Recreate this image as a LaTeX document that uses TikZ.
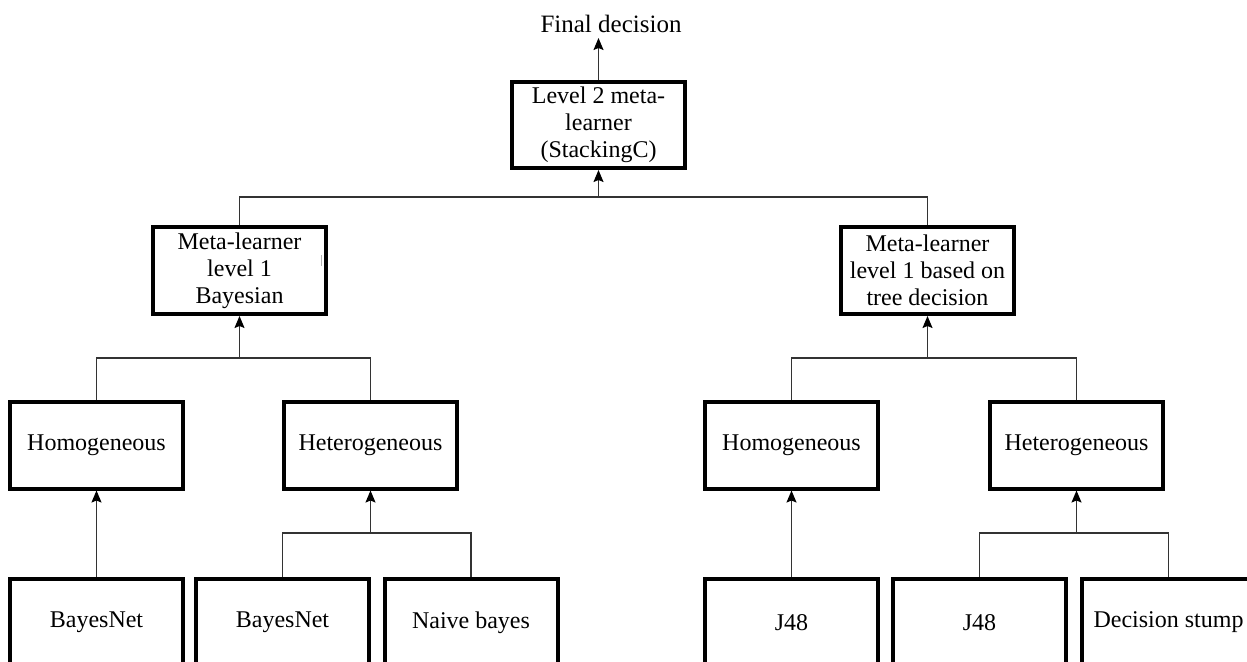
\documentclass[tikz,border=0pt]{standalone}
\usepackage{fontspec}
\setmainfont{Liberation Serif}
\usetikzlibrary{arrows.meta}
\begin{document}
\begin{tikzpicture}[x=1pt,y=-1pt,
  box/.style={draw=black, line width=4pt, minimum width=173pt, minimum height=87pt,
    inner sep=0pt, align=center, font=\fontsize{24}{27}\selectfont},
  conn/.style={draw=black!80, line width=1.3pt},
  arr/.style={conn, -{Stealth[length=12pt,width=10pt,inset=2pt,black]}}]
\useasboundingbox (0,0) rectangle (1247,661);
\clip (0,0) rectangle (1247,661);

% title
\node[inner sep=0pt, outer sep=5pt, text depth=0pt, anchor=base,
      font=\fontsize{25}{28}\selectfont] (fd) at (611,33) {Final decision};

% boxes
\node[box, minimum height=86pt] (top) at (598.5,125) {Level 2 meta-\\learner\\(StackingC)};
\node[box] (metaL) at (239.5,270.5) {Meta-learner\\level 1\\Bayesian};
\node[box] (metaR) at (927.5,270.5) {Meta-learner\\level 1 based on\\tree decision};
\node[box] (homL) at (96.5,445) {Homogeneous};
\node[box] (hetL) at (370.5,445) {Heterogeneous};
\node[box] (homR) at (791.5,445) {Homogeneous};
\node[box] (hetR) at (1076.5,445) {Heterogeneous};
\node[box] (b1) at (96.5,622.5) {BayesNet};
\node[box] (b2) at (282.5,622.5) {BayesNet};
\node[box] (b3) at (471,622.5) {Naive bayes};
\node[box] (b4) at (791.5,622.5) {J48};
\node[box] (b5) at (979.5,622.5) {J48};
\node[box] (b6) at (1168.5,622.5) {Decision stump};

% junction points
\coordinate (jtop) at (598.5,197);
\coordinate (jL) at (239.5,358);
\coordinate (jR) at (927.5,358);
\coordinate (jHL) at (370.5,533);
\coordinate (jHR) at (1076.5,533);

% connectors
\draw[arr] (top.north) -- (top.north |- fd.south);

\draw[conn] (metaL.north) -- (metaL.north |- jtop) -- (metaR.north |- jtop) -- (metaR.north);
\draw[arr] (jtop) -- (top.south);

\draw[conn] (homL.north) -- (homL.north |- jL) -- (hetL.north |- jL) -- (hetL.north);
\draw[arr] (jL) -- (metaL.south);
\draw[conn] (homR.north) -- (homR.north |- jR) -- (hetR.north |- jR) -- (hetR.north);
\draw[arr] (jR) -- (metaR.south);

\draw[arr] (b1.north) -- (homL.south);
\draw[conn] (b2.north) -- (b2.north |- jHL) -- (b3.north |- jHL) -- (b3.north);
\draw[arr] (jHL) -- (hetL.south);

\draw[arr] (b4.north) -- (homR.south);
\draw[conn] (b5.north) -- (b5.north |- jHR) -- (b6.north |- jHR) -- (b6.north);
\draw[arr] (jHR) -- (hetR.south);

% small grey mark inside the left meta-learner box
\draw[gray!60, line width=0.8pt] (321,255) -- (321,266);
\end{tikzpicture}
\end{document}
